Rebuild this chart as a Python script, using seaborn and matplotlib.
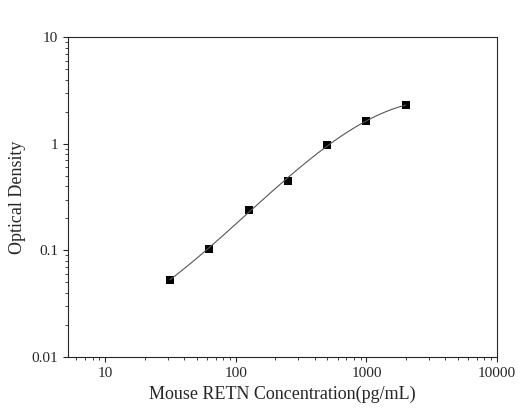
import numpy as np
import matplotlib
matplotlib.use("Agg")
import matplotlib.pyplot as plt
import seaborn as sns
import pandas as pd

conc = [31.25, 62.5, 125, 250, 500, 1000, 2000]
od = [0.053, 0.104, 0.24, 0.45, 0.98, 1.65, 2.3]

sns.set_style("ticks")
plt.rcParams['font.family'] = ['Liberation Serif', 'DejaVu Serif']

fig = plt.figure(figsize=(5.2, 4.18), dpi=100)
ax = fig.add_axes([0.131, 0.146, 0.825, 0.765])

lx, ly = np.log10(conc), np.log10(od)
coef = np.polyfit(lx, ly, 3)
xs = np.linspace(lx[0], lx[-1], 200)
fit = pd.DataFrame({"x": 10**xs, "y": 10**np.polyval(coef, xs)})
sns.lineplot(data=fit, x="x", y="y", ax=ax, color="#555555", linewidth=0.8)
sns.scatterplot(x=conc, y=od, ax=ax, marker="s", color="black", s=30, linewidth=0)

ax.set_xscale("log"); ax.set_yscale("log")
ax.set_xlim(5.2, 10000); ax.set_ylim(0.01, 10)
ax.set_xticks([10, 100, 1000, 10000]); ax.set_xticklabels(["10", "100", "1000", "10000"])
ax.set_yticks([0.01, 0.1, 1, 10]); ax.set_yticklabels(["0.01", "0.1", "1", "10"])
for s in ax.spines.values():
    s.set_visible(True); s.set_linewidth(0.8)
ax.tick_params(which="both", direction="out", labelsize=11)
ax.set_xlabel("Mouse RETN Concentration(pg/mL)", fontsize=13)
ax.set_ylabel("Optical Density", fontsize=13)
fig.savefig("out.png", dpi=100)
